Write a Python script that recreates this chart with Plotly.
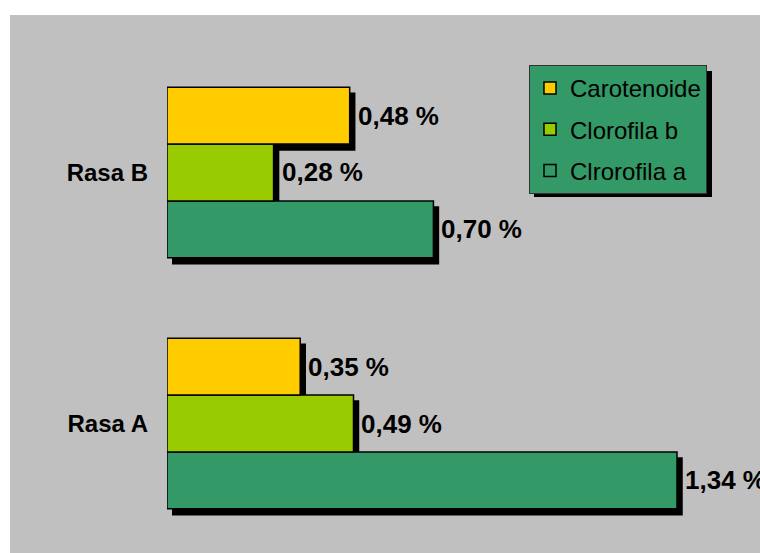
import plotly.graph_objects as go

# ---- data ----
categories = ["Rasa A", "Rasa B"]
series_names = ["Clrorofila a", "Clorofila b", "Carotenoide"]
clorofila_a = [1.34, 0.70]
clorofila_b = [0.49, 0.28]
carotenoide = [0.35, 0.48]
colors = ["#339966", "#99CC00", "#FFCC00"]
series_values = [clorofila_a, clorofila_b, carotenoide]

W, H = 760, 553
ML, MR, MT, MB = 160, 0, 40, 0
PW, PH = W - ML - MR, H - MT - MB

# pixel geometry of bar subplot and shadow offset
X0, SCALE = 167, 380.6          # px of value 0, px per unit
DX, DY = 5, 6                   # shadow offset
Y_A, CAT = 423.5, 251.0         # px of first category, px per category
BARGAP = 0.32


def xdom(p0, p1):
    return [(p0 - ML) / PW, (p1 - ML) / PW]


def ydom(p0, p1):  # p0 top px, p1 bottom px
    return [1 - (p1 - MT) / PH, 1 - (p0 - MT) / PH]


bx0, bx1 = X0, W - DX
by0, by1 = MT + 7, H - DY
xr = [0, (bx1 - bx0) / SCALE]
yr = [(Y_A - by1) / CAT, (Y_A - by0) / CAT]

fig = go.Figure()

# shadows (drawn first, on subplot xy)
for name, vals in zip(series_names, series_values):
    fig.add_trace(go.Bar(
        x=vals, y=categories, orientation="h", name=name,
        marker=dict(color="black", line=dict(color="black", width=1.5)),
        xaxis="x", yaxis="y", showlegend=False, hoverinfo="skip",
    ))

# real bars (subplot x2y2, drawn above)
n = len(series_names)
for i, (name, vals, col) in enumerate(zip(series_names, series_values, colors)):
    fig.add_trace(go.Bar(
        x=vals, y=categories, orientation="h", name=name,
        marker=dict(color=col, line=dict(color="black", width=1.5)),
        xaxis="x2", yaxis="y2", legendgroup=name, legendrank=n - i,
    ))

# value labels
group_w = 1 - BARGAP
bar_w = group_w / n
annotations = []
for i, vals in enumerate(series_values):
    off = -group_w / 2 + bar_w * (i + 0.5)
    for k, v in enumerate(vals):
        annotations.append(dict(
            x=v, y=k + off, xref="x2", yref="y2",
            text=f"{v:.2f}".replace(".", ",") + " %",
            showarrow=False, xanchor="left", yanchor="middle", xshift=6,
            font=dict(family="Liberation Sans, Arial", size=26, color="black", weight="bold"),
        ))

axis_common = dict(showgrid=False, zeroline=False, showline=False, fixedrange=True)

# legend geometry
LX0, LY0 = 529, 65
LX1, LY1 = 707, 191

shapes = [
    dict(type="rect", xref="paper", yref="paper", layer="below",
         x0=(10 - ML) / PW, x1=1.0, y0=-0.01, y1=1 + (MT - 15) / PH,
         fillcolor="#C0C0C0", line=dict(width=0)),
    dict(type="rect", xref="paper", yref="paper", layer="above",
         x0=(LX0 + DX - ML) / PW, x1=(LX1 + DX - ML) / PW,
         y0=1 - (LY1 + DY - MT) / PH, y1=1 - (LY0 + DY - MT) / PH,
         fillcolor="black", line=dict(width=0)),
]

fig.update_layout(
    width=W, height=H,
    margin=dict(l=ML, r=MR, t=MT, b=MB, pad=0),
    paper_bgcolor="white", plot_bgcolor="rgba(0,0,0,0)",
    barmode="group", bargap=BARGAP, bargroupgap=0,
    font=dict(family="Liberation Sans, Arial", color="black"),
    xaxis=dict(domain=xdom(bx0 + DX, bx1 + DX), range=xr, showticklabels=False, **axis_common),
    yaxis=dict(domain=ydom(by0 + DY, by1 + DY), range=yr, type="category",
               categoryorder="array", categoryarray=categories,
               showticklabels=False, anchor="x", **axis_common),
    xaxis2=dict(domain=xdom(bx0, bx1), range=xr, showticklabels=False, anchor="y2", **axis_common),
    yaxis2=dict(domain=ydom(by0, by1), range=yr, type="category",
                categoryorder="array", categoryarray=categories, anchor="x2",
                ticks="", ticklabelstandoff=18,
                tickfont=dict(family="Liberation Sans, Arial", size=24, color="black", weight="bold"),
                **axis_common),
    legend=dict(
        x=(LX0 - ML) / PW, y=1 - (LY0 - MT) / PH, xanchor="left", yanchor="top",
        bgcolor="#339966", bordercolor="#333333", borderwidth=1,
        font=dict(family="Liberation Sans, Arial", size=24, color="black"),
        traceorder="grouped", tracegroupgap=7, itemwidth=30,
    ),
    annotations=annotations,
    shapes=shapes,
    hovermode=False,
)

fig.write_html("out.html")
